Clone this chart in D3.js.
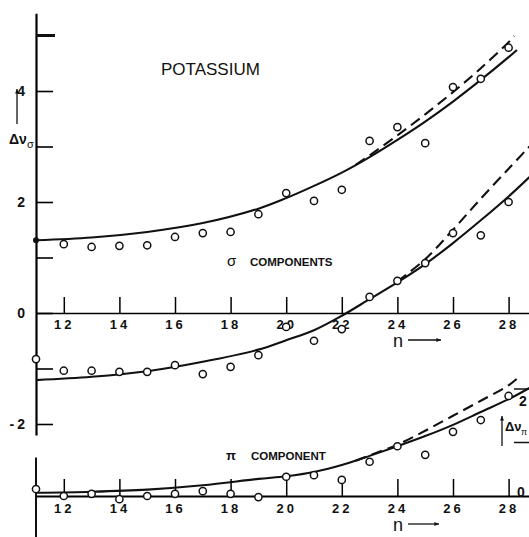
<!DOCTYPE html>
<html>
<head>
<meta charset="utf-8">
<script src="https://cdn.jsdelivr.net/npm/d3@7/dist/d3.min.js"></script>
<style>
  body { margin: 0; background: #fff; }
  text { font-family: "Liberation Sans", Arial, sans-serif; fill: #111; }
  .tick text { font-size: 13px; letter-spacing: 3px; font-weight: bold; }
</style>
</head>
<body>
<svg id="chart" width="529" height="537"></svg>
<script>
"use strict";

// measured points, n = principal quantum number
const sigmaN = [11, 12, 13, 14, 15, 16, 17, 18, 19, 20, 21, 22, 23, 24, 25, 26, 27, 28];
const sigmaUpper = [1.31, 1.24, 1.19, 1.21, 1.22, 1.37, 1.44, 1.46, 1.78, 2.16, 2.02, 2.22, 3.10, 3.35, 3.06, 4.07, 4.22, 4.78];
const sigmaLower = [-0.83, -1.04, -1.04, -1.06, -1.06, -0.94, -1.10, -0.97, -0.76, -0.25, -0.50, -0.29, 0.29, 0.58, 0.90, 1.44, 1.40, 2.00];
const piN = [11, 12, 13, 14, 15, 16, 17, 18, 19, 20, 21, 22, 23, 24, 25, 26, 27, 28];
const piValues = [0.13, 0.0, 0.04, -0.06, 0.0, 0.04, 0.09, 0.04, -0.02, 0.36, 0.39, 0.30, 0.64, 0.93, 0.77, 1.20, 1.42, 1.87];

// theory curves
const upperSolidN = [11, 13, 15, 17, 19, 20, 21, 22, 23, 24, 25, 26, 27, 28, 28.3];
const upperSolid = [1.31, 1.36, 1.46, 1.62, 1.88, 2.07, 2.29, 2.53, 2.81, 3.12, 3.45, 3.81, 4.2, 4.61, 4.74];
const upperDashN = [22.5, 23, 24, 25, 26, 27, 28, 28.2];
const upperDash = [2.67, 2.84, 3.2, 3.58, 3.98, 4.41, 4.88, 4.99];
const lowerSolidN = [11, 13, 15, 17, 19, 20, 21, 22, 23, 24, 25, 26, 27, 28, 28.75];
const lowerSolid = [-1.21, -1.15, -1.05, -0.88, -0.66, -0.49, -0.31, -0.05, 0.25, 0.55, 0.88, 1.26, 1.67, 2.1, 2.45];
const lowerDashN = [24, 25, 26, 27, 28, 28.75];
const lowerDash = [0.57, 0.97, 1.5, 2.06, 2.6, 3.0];
const piSolidN = [11, 13, 15, 17, 19, 20, 21, 22, 23, 24, 25, 26, 27, 28, 28.75];
const piSolid = [0.06, 0.08, 0.12, 0.2, 0.32, 0.37, 0.45, 0.58, 0.75, 0.93, 1.12, 1.33, 1.57, 1.81, 2.02];
const piDashN = [22.5, 23, 24, 25, 26, 27, 28, 28.45];
const piDash = [0.66, 0.76, 0.96, 1.22, 1.5, 1.78, 2.07, 2.26];

const xTicks = [12, 14, 16, 18, 20, 22, 24, 26, 28];
const sigmaTicks = [-2, -1, 0, 1, 2, 3, 4, 5];
const sigmaLabels = { "-2": "-2", "0": "0", "2": "2", "4": "4" };

const svg = d3.select("#chart");

const x = d3.scaleLinear().domain([11, 29]).range([36, 536.4]);
const ySig = d3.scaleLinear().domain([-2.2, 5.4]).range([435.1, 13.3]);
const yPi = d3.scaleLinear().domain([0, 2]).range([496, 389]);

const zip = (ns, vs) => ns.map((n, i) => [n, vs[i]]);

// sigma panel axes
const sigAxisY = d3.axisLeft(ySig)
  .tickValues(sigmaTicks)
  .tickSizeInner(-17)
  .tickSizeOuter(0)
  .tickPadding(8)
  .tickFormat(d => sigmaLabels[d] || "");
svg.append("g")
  .attr("transform", "translate(36,0)")
  .call(sigAxisY)
  .call(g => g.selectAll(".tick line").attr("stroke-width", 1.6))
  .call(g => g.select(".domain").attr("stroke-width", 2.2))
  .call(g => g.selectAll(".tick text").style("font-size", "14px").attr("letter-spacing", 0));
// heavy tick at 5
svg.append("line")
  .attr("x1", 36).attr("x2", 55)
  .attr("y1", ySig(5)).attr("y2", ySig(5))
  .attr("stroke", "#111").attr("stroke-width", 3);

const sigAxisX = d3.axisBottom(x)
  .tickValues(xTicks)
  .tickSizeInner(-16)
  .tickSizeOuter(0)
  .tickPadding(7);
svg.append("g")
  .attr("transform", `translate(0,${ySig(0)})`)
  .call(sigAxisX)
  .call(g => g.selectAll(".tick line").attr("stroke-width", 1.5))
  .call(g => g.select(".domain").attr("stroke-width", 1.6));

// pi panel axes
svg.append("line")
  .attr("x1", 36).attr("x2", 36)
  .attr("y1", yPi(0.72)).attr("y2", yPi(-0.8))
  .attr("stroke", "#111").attr("stroke-width", 2);

const piAxisX = d3.axisBottom(x)
  .tickValues(xTicks)
  .tickSizeInner(-17)
  .tickSizeOuter(0)
  .tickPadding(8);
svg.append("g")
  .attr("transform", `translate(0,${yPi(0)})`)
  .call(piAxisX)
  .call(g => g.selectAll(".tick line").attr("stroke-width", 1.5))
  .call(g => g.select(".domain").attr("stroke-width", 1.8));

// right-hand pi scale
svg.selectAll(".pi-r-tick")
  .data([1, 2])
  .enter()
  .append("line")
  .attr("x1", 514).attr("x2", 529)
  .attr("y1", d => yPi(d)).attr("y2", d => yPi(d))
  .attr("stroke", "#111").attr("stroke-width", 1.5);
svg.append("text").attr("x", 519).attr("y", yPi(2) + 17)
  .style("font-size", "14px").style("font-weight", "bold").text("2");
svg.append("text").attr("x", 517).attr("y", yPi(0) + 1)
  .style("font-size", "14px").style("font-weight", "bold").text("0");

// curves
const line = d3.line()
  .x(d => x(d[0]))
  .curve(d3.curveCatmullRom.alpha(0.5));
const drawCurve = (data, yScale, dashed) => {
  svg.append("path")
    .datum(data)
    .attr("fill", "none")
    .attr("stroke", "#111")
    .attr("stroke-width", 2.1)
    .attr("stroke-dasharray", dashed ? "11,6" : null)
    .attr("d", line.y(d => yScale(d[1])));
};
drawCurve(zip(upperSolidN, upperSolid), ySig, false);
drawCurve(zip(upperDashN, upperDash), ySig, true);
drawCurve(zip(lowerSolidN, lowerSolid), ySig, false);
drawCurve(zip(lowerDashN, lowerDash), ySig, true);
drawCurve(zip(piSolidN, piSolid), yPi, false);
drawCurve(zip(piDashN, piDash), yPi, true);

// points
const drawPoints = (ns, vs, yScale) => {
  svg.append("g")
    .selectAll("circle")
    .data(zip(ns, vs))
    .enter()
    .append("circle")
    .attr("cx", d => x(d[0]))
    .attr("cy", d => yScale(d[1]))
    .attr("r", 3.6)
    .attr("fill", "#fff")
    .attr("stroke", "#111")
    .attr("stroke-width", 1.5);
};
drawPoints(sigmaN.slice(1), sigmaUpper.slice(1), ySig);
drawPoints(sigmaN, sigmaLower, ySig);
drawPoints(piN, piValues, yPi);
svg.append("circle")
  .attr("cx", x(sigmaN[0])).attr("cy", ySig(sigmaUpper[0]))
  .attr("r", 3).attr("fill", "#111");

// labels
svg.append("text").attr("x", 161).attr("y", 75)
  .style("font-size", "17px").text("POTASSIUM");

svg.append("text").attr("x", 227).attr("y", 266)
  .style("font-size", "15px").text("σ");
svg.append("text").attr("x", 250).attr("y", 266)
  .style("font-size", "11.5px").style("font-weight", "bold").text("COMPONENTS");
svg.append("text").attr("x", 226).attr("y", 460)
  .style("font-size", "13px").style("font-weight", "bold").text("π");
svg.append("text").attr("x", 251).attr("y", 460)
  .style("font-size", "11.5px").style("font-weight", "bold").text("COMPONENT");

const arrow = (x1, y1, x2, y2) => {
  svg.append("line")
    .attr("x1", x1).attr("y1", y1).attr("x2", x2).attr("y2", y2)
    .attr("stroke", "#111").attr("stroke-width", 1.3);
  const ang = Math.atan2(y2 - y1, x2 - x1);
  const s = 5;
  svg.append("path")
    .attr("d", `M${x2},${y2} L${x2 - s * Math.cos(ang - 0.4)},${y2 - s * Math.sin(ang - 0.4)} L${x2 - s * Math.cos(ang + 0.4)},${y2 - s * Math.sin(ang + 0.4)} Z`)
    .attr("fill", "#111");
};

// left Δν_σ label
arrow(17, 124, 17, 89);
svg.append("text").attr("x", 9).attr("y", 144)
  .style("font-size", "14px").style("font-weight", "bold").text("Δν");
svg.append("text").attr("x", 27).attr("y", 148)
  .style("font-size", "11px").text("σ");

// right Δν_π label
arrow(502, 446, 502, 416);
svg.append("text").attr("x", 505).attr("y", 431)
  .style("font-size", "13px").style("font-weight", "bold").text("Δν");
svg.append("text").attr("x", 521).attr("y", 435)
  .style("font-size", "9px").text("π");

// n arrows
svg.append("text").attr("x", 393).attr("y", 347)
  .style("font-size", "18px").text("n");
arrow(408, 340, 441, 340);
svg.append("text").attr("x", 393).attr("y", 531)
  .style("font-size", "18px").text("n");
arrow(408, 524, 439, 524);
</script>
</body>
</html>
